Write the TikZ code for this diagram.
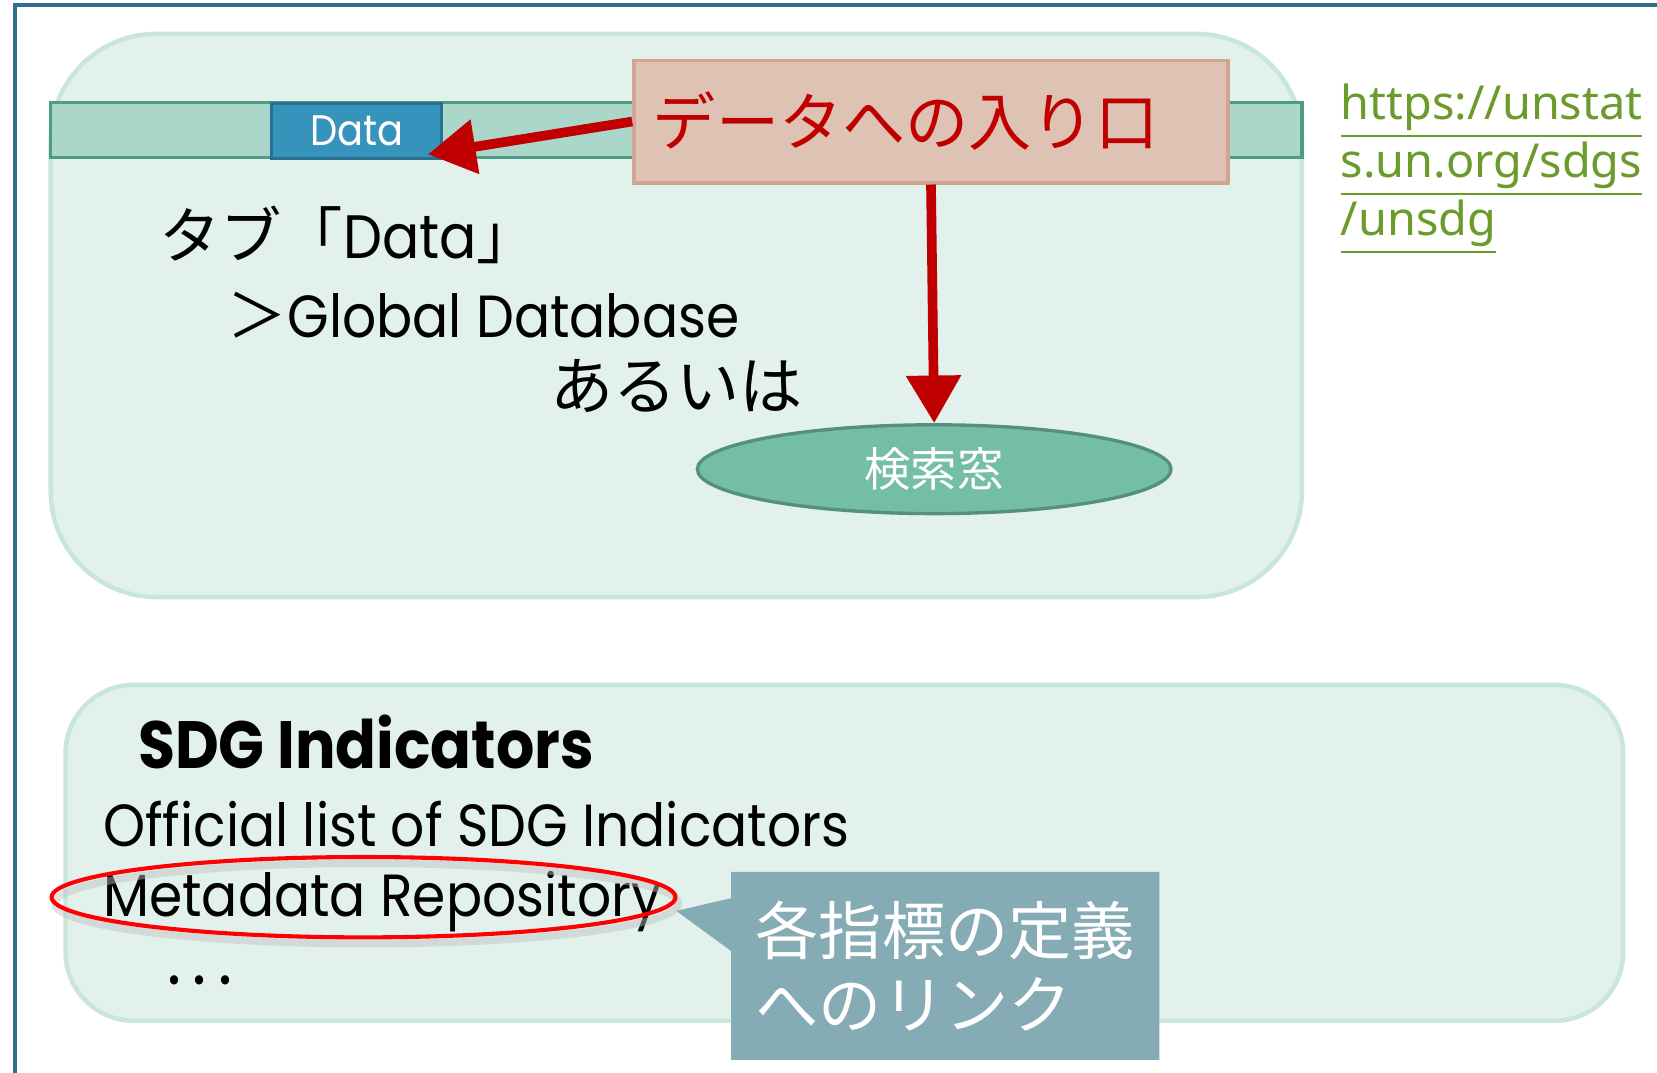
\documentclass[tikz,border=0pt]{standalone}
\usepackage{fontspec}
\setmainfont{Poppins}[FakeStretch=0.9]
\newfontfamily\jp{Noto Sans CJK JP}
\newfontfamily\urlfont{Noto Sans}
\usetikzlibrary{arrows.meta,shapes.geometric,shapes.callouts}
\definecolor{frameblue}{HTML}{2F6E8D}
\definecolor{panelfill}{HTML}{E2F1EC}
\definecolor{panelline}{HTML}{C8E6DB}
\definecolor{barfill}{HTML}{ABD6CA}
\definecolor{barline}{HTML}{4E9C84}
\definecolor{tabfill}{HTML}{3593BC}
\definecolor{tabline}{HTML}{2B6F8E}
\definecolor{lblfill}{HTML}{DEC3B5}
\definecolor{lblline}{HTML}{D2A593}
\definecolor{darkred}{HTML}{C00000}
\definecolor{srchfill}{HTML}{75BEA6}
\definecolor{srchline}{HTML}{55907A}
\definecolor{notefill}{HTML}{85ABB5}
\definecolor{urlgreen}{HTML}{6A9B2B}
\begin{document}
\begin{tikzpicture}[x=0.01cm,y=-0.01cm]
        \tikzstyle{every node} = [inner sep=0pt]
        \tikzstyle{panel} = [draw=panelline, fill=panelfill, line width=1.2pt]
        \tikzstyle{redarrow} = [draw=darkred, line width=2.6pt, -{Triangle[length=0.45cm,width=0.5cm]}]
        \tikzstyle{body} = [anchor=west, font=\fontsize{16pt}{19pt}\selectfont]
        \useasboundingbox (0,0) rectangle (1568,1015);
        \fill[white] (0,0) rectangle (1568,1015);
        \draw[frameblue, line width=1.1pt] (14,1015) -- (14,5) -- (1568,5);

        \draw[panel, rounded corners=1cm] (48,32) rectangle (1232,565);
        \draw[fill=barfill, draw=barline, line width=0.9pt] (48,97) rectangle (1232,149);
        \node[fill=tabfill, draw=tabline, line width=0.9pt, minimum width=1.61cm, minimum height=0.52cm,
              text=white, font=\fontsize{11.5pt}{13pt}\selectfont] (data) at (337.5,124) {Data};
        \node[fill=lblfill, draw=lblline, line width=0.9pt, minimum height=1.16cm, inner xsep=0.18cm,
              text width=5.26cm, align=left, text=darkred, font=\jp\fontsize{17pt}{20pt}\selectfont] (lbl) at (881,115) {データへの入り口};
        \node[ellipse, fill=srchfill, draw=srchline, line width=0.9pt, minimum width=4.48cm, minimum height=0.84cm,
              text=white, font=\jp\fontsize{12.5pt}{15pt}\selectfont] (srch) at (884,444) {検索窓};
        \coordinate (tip) at (405,146);

        \draw[redarrow] (lbl.west) -- (tip);
        \draw[redarrow] (lbl.south) -- (srch.north);

        \node[body, font=\fontsize{16.5pt}{19pt}\selectfont] (tabname) at (150,222) {{\jp タブ「}Data{\jp 」}};
        \node[body] (gdb) at (215,298) {{\jp ＞}Global Database};
        \node[body, font=\jp\fontsize{17pt}{20pt}\selectfont] (alt) at (520,365) {あるいは};
        \node[anchor=west, align=left, text=urlgreen, font=\urlfont\fontsize{12.6pt}{12pt}\selectfont] (url) at (1268,160)
              {\underline{https://unstat}\\\underline{s.un.org/sdgs}\\\underline{/unsdg}};

        \draw[panel, rounded corners=0.65cm] (62,648) rectangle (1536,966);
        \node[body, font=\bfseries\fontsize{18pt}{21pt}\selectfont] (title) at (130,702) {SDG Indicators};
        \node[body] (list) at (97,780) {Official list of SDG Indicators};
        \node[body] (meta) at (97,853) {Metadata Repository};
        \node[body, font=\fontsize{20pt}{22pt}\selectfont] (more) at (158,928) {.\hspace{0.15em}.\hspace{0.15em}.};

        \node[ellipse, draw=black!25, opacity=.45, line width=2pt, minimum width=5.9cm, minimum height=0.76cm] (ringshadow) at (347,855) {};
        \node[ellipse, draw=red, line width=1.1pt, minimum width=5.9cm, minimum height=0.76cm] (ring) at (344,849) {};
        \coordinate (ptr) at (640,862);
        \node[rectangle callout, fill=notefill, minimum width=4.05cm, minimum height=1.78cm,
              callout absolute pointer={(ptr)}, callout pointer width=0.5cm, text=white, align=left,
              font=\jp\fontsize{17pt}{20pt}\selectfont] (note) at (894.5,914) {各指標の定義\\へのリンク};
      \end{tikzpicture}
\end{document}
